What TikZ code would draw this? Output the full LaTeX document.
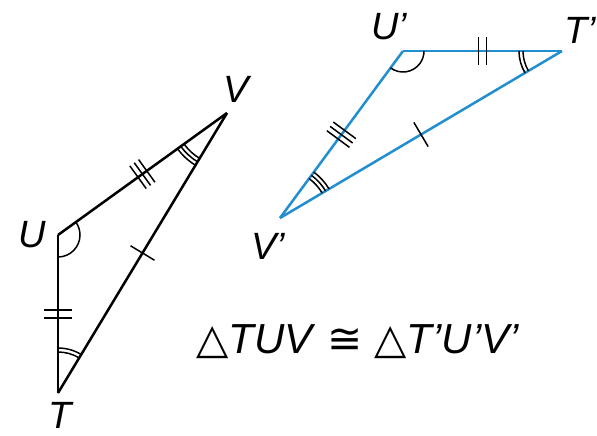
\documentclass[tikz,border=0pt]{standalone}
\usepackage{fontspec}
\setmainfont{Liberation Sans}
\newfontfamily\symfont{DejaVu Sans}
\usetikzlibrary{angles,decorations.markings}
\definecolor{tblue}{RGB}{33,142,208}
\tikzset{
  edge/.style={line width=1.25pt},
  lbl/.style={font=\fontsize{19}{22}\selectfont\itshape, inner sep=0pt},
  onetick/.style={postaction={decorate,decoration={markings,
    mark=at position 0.5 with {\draw[black,line width=0.75pt] (0,-7pt)--(0,7pt);}}}},
  twotick/.style={postaction={decorate,decoration={markings,
    mark=at position 0.5 with {\draw[black,line width=0.75pt] (-1.9pt,-7pt)--(-1.9pt,7pt) (1.9pt,-7pt)--(1.9pt,7pt);}}}},
  threetick/.style={postaction={decorate,decoration={markings,
    mark=at position 0.5 with {\draw[black,line width=0.75pt] (-2.7pt,-7pt)--(-2.7pt,7pt) (0,-7pt)--(0,7pt) (2.7pt,-7pt)--(2.7pt,7pt);}}}},
  arcmark/.style={draw=black,line width=0.75pt}
}
\begin{document}
\begin{tikzpicture}[x=0.5pt,y=0.5pt]
\useasboundingbox (0,0) rectangle (597,435);
% black triangle
\coordinate (U) at (58,200);
\coordinate (V) at (227,322);
\coordinate (T) at (58,42);
% blue triangle
\coordinate (U2) at (403,384);
\coordinate (T2) at (562,384);
\coordinate (V2) at (280,217);

\draw[edge,threetick] (U) -- (V);
\draw[edge,onetick] (V) -- (T);
\draw[edge,twotick] (T) -- (U);

\draw[edge,tblue,twotick] (U2) -- (T2);
\draw[edge,tblue,onetick] (T2) -- (V2);
\draw[edge,tblue,threetick] (V2) -- (U2);

% angle marks
\pic[arcmark,angle radius=11pt] {angle=T--U--V};
\pic[arcmark,angle radius=26.5pt] {angle=U--V--T};
\pic[arcmark,angle radius=28.5pt] {angle=U--V--T};
\pic[arcmark,angle radius=30.5pt] {angle=U--V--T};
\pic[arcmark,angle radius=20.5pt] {angle=V--T--U};
\pic[arcmark,angle radius=22.5pt] {angle=V--T--U};

\pic[arcmark,angle radius=10.5pt] {angle=V2--U2--T2};
\pic[arcmark,angle radius=19.5pt] {angle=U2--T2--V2};
\pic[arcmark,angle radius=21.5pt] {angle=U2--T2--V2};
\pic[arcmark,angle radius=24.5pt] {angle=T2--V2--U2};
\pic[arcmark,angle radius=26.5pt] {angle=T2--V2--U2};
\pic[arcmark,angle radius=28.5pt] {angle=T2--V2--U2};

% labels
\node[lbl] (lV) at (236,346) {V};
\node[lbl] (lU) at (32,200) {U};
\node[lbl] (lT) at (60,20) {T};
\node[lbl] (lU2) at (389,408) {U’};
\node[lbl] (lT2) at (580,405) {T’};
\node[lbl] (lV2) at (268,189) {V’};

\node[font=\fontsize{21}{24}\selectfont, inner sep=0pt] (eq) at (358,93)
  {{\symfont △}\textit{TUV} {\symfont ≅} {\symfont △}\textit{T’U’V’}};
\end{tikzpicture}
\end{document}
